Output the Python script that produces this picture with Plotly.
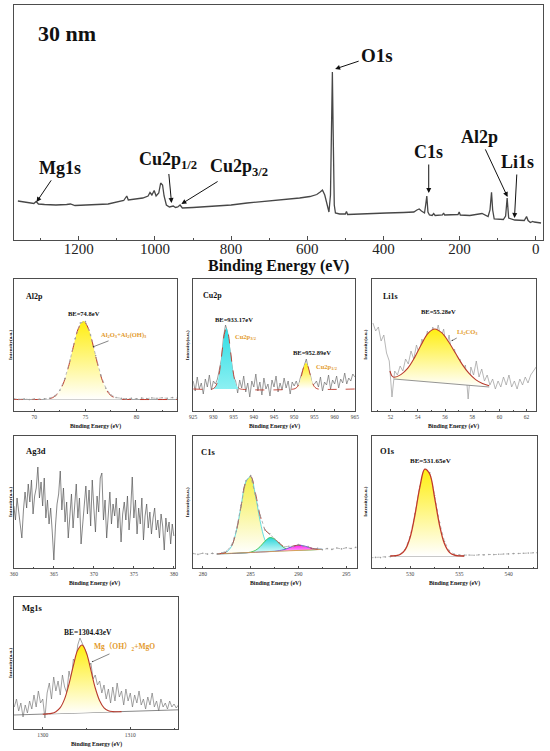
import plotly.graph_objects as go

W, H = 550, 751
SERIF = "Liberation Serif, Times New Roman, Noto Sans CJK SC, serif"
ORANGE = "#e39a2c"
RED = "#c0392b"
YELLOW = [[0, "#ffffff"], [1, "#ffee10"]]

# ---------------- survey spectrum (30 nm) ----------------
survey_be = [1360, 1340, 1318, 1312, 1306, 1290, 1260, 1232, 1222, 1210,
             1170, 1123, 1082, 1074, 1070, 1032, 1018, 1013, 1008, 1002,
             997, 990, 985, 980, 976, 970, 962, 952, 946, 940,
             934, 928, 900, 849, 800, 758, 712, 666, 620, 593,
             575, 566, 560, 554, 547, 543, 539, 536, 534, 532,
             529, 526, 515, 500, 497, 494, 470, 438, 392, 347,
             320, 312, 306, 300, 292, 289, 286, 283, 279, 272,
             268, 264, 245, 242, 239, 204, 201, 198, 173, 141,
             125, 120, 116, 113, 109, 85, 79, 75, 71, 55,
             30, 24, 20, 14, 8, 4, -14]
survey_int = [39, 37.5, 36.5, 38.5, 36, 35.5, 35, 35.5, 36, 34.5,
              35, 36, 39.5, 44, 40, 42, 44, 47.5, 45, 49.5,
              44, 47, 57, 55, 44, 35, 33, 34, 32.5, 33,
              35, 32, 32.5, 33.5, 35, 37, 38.5, 40, 42, 43.5,
              45.5, 48, 50, 45, 35, 28, 45, 120, 168, 110,
              35, 27, 26, 26, 28.5, 25.5, 26, 26.5, 27, 27.5,
              28, 30, 31, 29, 27, 35, 44, 28, 25, 24.5,
              26.5, 24.5, 25, 27, 25, 25.5, 28, 25, 24.5, 26.5,
              23.5, 30, 47.7, 30, 21, 20.5, 24, 42, 22, 20,
              19.5, 23.5, 19.5, 17.5, 18.5, 18, 17]

# ---------------- Al2p ----------------
al_raw = [12.3, 11.6, 12.1, 11.4, 12.0, 11.7, 12.2, 12.8, 14.9, 20.8,
          32.5, 51.0, 72.5, 88.0, 89.5, 76.0, 55.5, 36.0, 22.8, 16.0,
          13.4, 12.6, 12.1, 12.7, 12.2, 12.9, 12.4, 13.1, 12.6, 13.2,
          12.7, 13.4, 12.9]                       # 68.0 ... 84.0 eV, 0.5 eV step
al_raw_be = [68.0 + 0.5 * i for i in range(len(al_raw))]
al_fit_be = [68, 70.3, 70.8, 71.3, 71.8, 72.3, 72.8, 73.3, 73.8, 74.3, 74.8,
             75.3, 75.8, 76.3, 76.8, 77.3, 77.8, 78.3, 78.8, 79.3, 84]
al_fit = [11.5, 11.5, 11.6, 12.0, 13.4, 17.4, 26.6, 42.5, 63.5, 82.3, 90.0,
          82.3, 63.5, 42.5, 26.6, 17.4, 13.4, 12.0, 11.6, 11.5, 11.5]
al_base_be = [68, 84]
al_base = [11.5, 11.5]

# ---------------- Cu2p ----------------
cu_raw = [30, 20, 34, 22, 28, 17, 32, 24, 36, 21,
          30, 27, 32, 42, 52, 74, 86, 79, 64, 53,
          34, 30, 18, 31, 23, 35, 19, 28, 14, 30,
          24, 37, 20, 29, 16, 33, 22, 27, 15, 31,
          24, 35, 19, 28, 21, 33, 23, 30, 17, 29,
          25, 30, 24, 33, 40, 47, 52, 42, 36, 26,
          27, 30, 24, 34, 20, 29, 26, 36, 22, 31,
          27, 35, 23, 32, 28, 38, 27, 33, 30, 37,
          34]                                     # 925 ... 965 eV, 0.5 eV step
cu_raw_be = [925.0 + 0.5 * i for i in range(len(cu_raw))]
cu_fit_be = [925, 929.7, 930.2, 930.7, 931.2, 931.7, 932.2, 932.7, 933.2, 933.7,
             934.2, 934.7, 935.2, 935.7, 936.2, 936.7, 949.9, 950.4, 950.9, 951.4,
             951.9, 952.4, 952.9, 953.4, 953.9, 954.4, 954.9, 955.4, 955.9, 965]
cu_fit = [22, 22, 23.1, 25.8, 32.3, 44.4, 61.1, 76.6, 83.0, 76.6,
          61.1, 44.4, 32.3, 25.8, 23.1, 22, 22, 22.8, 24.8, 29.5,
          37.0, 44.6, 48.0, 44.6, 37.0, 29.5, 24.8, 22.8, 22, 22]
cu_p32_be = [929.7, 930.2, 930.7, 931.2, 931.7, 932.2, 932.7, 933.2, 933.7,
             934.2, 934.7, 935.2, 935.7, 936.2, 936.7]
cu_p32 = [22, 23.1, 25.8, 32.3, 44.4, 61.1, 76.6, 83.0, 76.6,
          61.1, 44.4, 32.3, 25.8, 23.1, 22]
cu_p12_be = [949.9, 950.4, 950.9, 951.4, 951.9, 952.4, 952.9, 953.4, 953.9,
             954.4, 954.9, 955.4, 955.9]
cu_p12 = [22, 22.8, 24.8, 29.5, 37.0, 44.6, 48.0, 44.6, 37.0, 29.5, 24.8, 22.8, 22]
cu_base = [22, 22]

# ---------------- Li1s ----------------
li_raw = [88, 80, 84, 70, 76, 58, 50,
          14, 40, 36, 45, 40,
          52, 47, 60, 52, 66,
          57, 72, 64, 80, 71,
          84, 75, 86, 73, 82,
          63, 76, 56, 62, 44,
          52, 40, 46, 12, 44,
          36, 50, 34, 42, 30,
          36, 26, 32, 22, 30,
          24, 34, 26, 36, 24,
          30, 22, 32, 26, 34,
          28, 36, 40, 44]                         # 50.7 ... 62.7 eV, 0.2 eV step
li_raw_be = [50.7 + 0.2 * i for i in range(len(li_raw))]
li_fit_be = [51.95, 52.1, 52.25, 52.75, 53.25, 53.75, 54.25, 54.75, 55.25,
             55.75, 56.25, 56.75, 57.25, 57.75, 58.25, 58.75, 59.25]
li_fit = [40, 35, 33.8, 36.4, 42.6, 53.1, 66.3, 77.7, 82.0,
          78.3, 69.5, 58.2, 46.9, 37.8, 31.4, 27.5, 25.2]
li_base_be = [52.25, 59.25]
li_base = [32, 24]

# ---------------- Ag3d ----------------
ag_raw = [62, 48, 70, 55, 40, 30, 58, 76, 60, 84,
          66, 88, 54, 72, 80, 101, 70, 86, 62, 90,
          50, 68, 44, 60, 36, 8, 42, 64, 74, 97,
          58, 80, 46, 66, 30, 52, 74, 40, 62, 84,
          50, 70, 24, 46, 66, 82, 54, 78, 42, 88,
          60, 36, 72, 56, 90, 95, 48, 68, 30, 58,
          76, 44, 64, 52, 70, 40, 60, 26, 54, 66,
          48, 72, 38, 58, 91, 50, 68, 34, 60, 44,
          70, 28, 52, 64, 40, 56, 34, 50, 60, 38,
          48, 30, 54, 42, 18, 50, 36, 46, 24, 44,
          32]                                     # 360 ... 380 eV, 0.2 eV step
ag_raw_be = [360.0 + 0.2 * i for i in range(len(ag_raw))]

# ---------------- C1s ----------------
c_raw = [14.5, 13.6, 14.8, 13.9, 14.6, 14.0, 15.2, 16.8, 22.5, 37.0,
         62.5, 87.0, 92.5, 74.0, 52.8, 38.0, 34.2, 29.0, 25.3, 21.0,
         21.8, 21.5, 23.4, 21.8, 21.4, 19.0, 19.6, 18.3, 19.4, 18.6,
         20.0, 19.1, 20.2, 19.5, 20.6]           # 279 ... 296 eV, 0.5 eV step
c_raw_be = [279.0 + 0.5 * i for i in range(len(c_raw))]
c_be = [281.5, 282, 282.5, 283, 283.5, 284, 284.5, 285, 285.5, 286, 286.5, 287,
        287.5, 288, 288.5, 289, 289.5, 290, 290.5, 291, 291.5, 292, 292.5]
c_base = [14.2, 14.3, 14.4, 14.5, 14.7, 15.0, 15.2, 15.5, 15.7, 16.0, 16.2, 16.5,
          16.7, 17.0, 17.2, 17.5, 17.6, 17.8, 18.0, 18.2, 18.3, 18.5, 18.6]
c_cc = [14.2, 14.6, 16.1, 21.7, 36.6, 61.7, 86.0, 91.3, 73.2, 46.8, 27.9, 19.6,
        17.3, 17.0, 17.2, 17.5, 17.6, 17.8, 18.0, 18.2, 18.3, 18.5, 18.6]
c_co = [14.2, 14.3, 14.4, 14.5, 14.7, 15.0, 15.2, 15.9, 17.6, 21.4, 26.8, 30.4,
        29.0, 24.4, 20.2, 18.3, 17.7, 17.8, 18.0, 18.2, 18.3, 18.5, 18.6]
c_oco = [14.2, 14.3, 14.4, 14.5, 14.7, 15.0, 15.2, 15.5, 15.7, 16.0, 16.2, 16.5,
         16.7, 17.4, 18.4, 20.2, 21.9, 22.8, 22.3, 20.9, 19.5, 18.9, 18.7]
c_env = [14.2, 14.6, 16.1, 21.7, 36.6, 61.7, 86.0, 91.7, 75.1, 52.2, 38.5, 33.5,
         29.6, 24.8, 21.4, 21.0, 22.0, 22.8, 22.3, 20.9, 19.5, 18.9, 18.7]

# ---------------- O1s ----------------
o_raw = [10.2, 10.6, 10.4, 11.0, 11.3, 12.0, 13.8, 18.5, 31.0, 54.0,
         81.5, 98.5, 95.5, 72.5, 45.5, 26.5, 17.0, 13.8, 13.0, 12.6,
         12.9, 12.8, 13.2, 13.1, 13.5, 13.4, 13.8, 14.0, 14.1, 14.4,
         14.5, 14.8, 14.9, 15.2, 15.3]           # 526 ... 543 eV, 0.5 eV step
o_raw_be = [526.0 + 0.5 * i for i in range(len(o_raw))]
o_fit = [12.0, 12.3, 13.5, 18.1, 30.2, 53.0, 80.9, 98.8, 94.0, 70.0,
         42.7, 24.2, 15.6, 12.8, 12.1, 12.0]     # 528 ... 535.5 eV
o_fit_be = [528.0 + 0.5 * i for i in range(len(o_fit))]
o_base_be = [528, 535.5]
o_base = [12, 12]

# ---------------- Mg1s ----------------
mg_raw = [22,
          30, 18, 26, 12, 24, 16, 28, 20, 34, 22, 38, 26,
          30, 11, 36, 46, 30, 52, 38, 48, 34, 54, 42, 36,
          58, 48, 70, 66, 84, 91, 86, 80, 76, 62, 66, 50,
          54, 44, 48, 36, 44, 30, 40, 26, 42, 28, 46, 32,
          38, 24, 40, 28, 36, 22, 34, 26, 38, 24, 30, 20,
          32, 24, 36, 22, 28, 18, 30, 22, 26, 20, 28, 22,
          25, 21, 24]                             # 1296.75 ... 1315.5 eV, 0.25 eV step
mg_raw_be = [1296.75 + 0.25 * i for i in range(len(mg_raw))]
mg_fit = [14.8, 15.1, 15.6, 17.3, 21.3, 30.1, 44.9, 63.4, 79.0, 84.0,
          75.7, 58.8, 41.0, 28.3, 21.2, 18.3, 17.4, 17.2, 17.4]  # 1300 ... 1309 eV
mg_fit_be = [1300.0 + 0.5 * i for i in range(len(mg_fit))]
mg_base_be = [1296.7, 1315.5]
mg_base = [14.0, 19.2]
mg_fill_base_be = [1300, 1309]
mg_fill_base = [14.9, 17.4]


def ref(n):
    return ("x" if n == 1 else f"x{n}"), ("y" if n == 1 else f"y{n}")


fig = go.Figure()


def add_line(n, x, y, color, width=0.8, dash="solid", shape="linear", mode="lines", **kw):
    xa, ya = ref(n)
    fig.add_trace(go.Scatter(x=x, y=y, xaxis=xa, yaxis=ya, mode=mode,
                             line=dict(color=color, width=width, dash=dash, shape=shape),
                             hoverinfo="skip", showlegend=False, **kw))


def add_fill(n, bx, by, x, y, scale, color="rgba(0,0,0,0)", width=0, dash="solid"):
    # invisible baseline first, then the peak filled down to it
    add_line(n, bx, by, "rgba(0,0,0,0)", width=0)
    xa, ya = ref(n)
    fig.add_trace(go.Scatter(x=x, y=y, xaxis=xa, yaxis=ya, mode="lines", fill="tonexty",
                             fillgradient=dict(type="vertical", colorscale=scale),
                             line=dict(color=color, width=width, dash=dash, shape="spline"),
                             hoverinfo="skip", showlegend=False))


# survey
add_line(1, survey_be, survey_int, "#474747", width=1.3)

# Al2p
add_line(2, al_base_be, al_base, "#8c8c8c", width=0.8)
add_fill(2, al_base_be, al_base, al_fit_be, al_fit, YELLOW, color=RED, width=1, dash="dash")
add_line(2, al_raw_be, al_raw, "#a8a8a8", width=0.8, dash="dot", mode="lines+markers",
         marker=dict(size=1.6, color="#9a9a9a"))

# Cu2p
add_line(3, cu_raw_be, cu_raw, "#6e6e6e", width=0.7)
add_fill(3, [929.7, 936.7], cu_base, cu_p32_be, cu_p32, [[0, "#8cf0f2"], [1, "#2fdde4"]])
add_fill(3, [949.9, 955.9], cu_base, cu_p12_be, cu_p12, YELLOW)
add_line(3, cu_fit_be, cu_fit, RED, width=0.9, dash="dash", shape="spline")

# Li1s
add_line(4, li_raw_be, li_raw, "#999999", width=0.7)
add_fill(4, li_base_be, li_base, li_fit_be[2:], li_fit[2:], YELLOW)
add_line(4, li_base_be, li_base, "#7a7a7a", width=0.8)
add_line(4, li_fit_be, li_fit, "#b83a2e", width=1.1, shape="spline")

# Ag3d
add_line(5, ag_raw_be, ag_raw, "#555555", width=0.7)

# C1s
add_fill(6, c_be, c_base, c_be, c_cc, [[0, "#ffffff"], [1, "#f5ef4a"]], color="#3fd3e0", width=0.8)
add_fill(6, c_be, c_base, c_be, c_co, [[0, "#e6ffff"], [1, "#27d4d8"]], color="#2fbf3a", width=0.8)
add_fill(6, c_be, c_base, c_be, c_oco, [[0, "#ffe6ff"], [1, "#ff1cf0"]], color="#4a4ad8", width=0.8)
add_line(6, c_be, c_base, "#e0a040", width=0.8)
add_line(6, c_be, c_env, RED, width=0.9, dash="dash", shape="spline")
add_line(6, c_raw_be, c_raw, "#a0a0a0", width=0.8, dash="dot", mode="lines+markers",
         marker=dict(size=1.6, color="#9a9a9a"))

# O1s
add_line(7, o_raw_be, o_raw, "#a8a8a8", width=0.8, dash="dot", mode="lines+markers",
         marker=dict(size=1.6, color="#9f9f9f"))
add_line(7, o_base_be, o_base, "#7a7a7a", width=0.8)
add_fill(7, o_base_be, o_base, o_fit_be, o_fit, YELLOW, color="#c0392b", width=1.3)

# Mg1s
add_line(8, mg_raw_be, mg_raw, "#7a7a7a", width=0.7)
add_line(8, mg_base_be, mg_base, "#6a6a6a", width=0.8)
add_fill(8, mg_fill_base_be, mg_fill_base, mg_fit_be, mg_fit, YELLOW, color="#b83a2e", width=1.1)


def px(v):
    return v / W


def py(v):
    return 1 - v / H


# panel frames: (n, left, right, top, bottom, x-range, dtick, minor dtick, y-range)
panels = [
    (1, 10.6, 546.5, 5, 240, [1369, -18], 200, 100, [0, 235]),
    (2, 10, 176, 279, 411, [68, 84], 5, 2.5, [0, 132]),
    (3, 192, 356, 279, 411, [925, 965], 5, None, [0, 132]),
    (4, 373, 540, 279, 411, [50.6, 62.7], 2, 1, [0, 132]),
    (5, 10, 174, 436, 568, [360, 380.2], 5, 2.5, [0, 132]),
    (6, 192, 358, 436, 568, [279, 296.1], 5, 2.5, [0, 132]),
    (7, 373, 541, 436, 568, [526.1, 542.9], 5, 2.5, [0, 132]),
    (8, 10, 177, 597, 729, [1296.7, 1315.5], 10, 5, [0, 132]),
]

layout = {}
for n, l, r, t, b, xr, dt, mdt, yr in panels:
    big = n == 1
    xa = dict(domain=[px(l), px(r)], range=xr, anchor=ref(n)[1],
              showline=True, mirror=True, linecolor="#4d4d4d", linewidth=1.3 if big else 0.9,
              showgrid=False, zeroline=False, ticks="inside", ticklen=4 if big else 2,
              tickcolor="#4d4d4d", tick0=0, dtick=dt, ticklabelstandoff=-5 if big else 0,
              tickfont=dict(family=SERIF, size=15 if big else 5.5, color="#222" if big else "#444"))
    if mdt:
        xa["minor"] = dict(ticks="inside", ticklen=2 if big else 1, dtick=mdt, tick0=0,
                           tickcolor="#4d4d4d")
    ya = dict(domain=[py(b), py(t)], range=yr, anchor=ref(n)[0],
              showline=True, mirror=True, linecolor="#4d4d4d", linewidth=1.3 if big else 0.9,
              showgrid=False, zeroline=False, showticklabels=False, ticks="")
    key = "" if n == 1 else str(n)
    layout["xaxis" + key] = xa
    layout["yaxis" + key] = ya

ann = []


def text(x, y, s, size, color="#111", anchor="center", angle=0, bold=True):
    ann.append(dict(x=px(x), y=py(y), xref="paper", yref="paper", text=s, showarrow=False,
                    xanchor=anchor, yanchor="middle", textangle=angle,
                    font=dict(family=SERIF, size=size, color=color,
                              weight="bold" if bold else "normal")))


def pointer(label, at, head, size, color="#111", awidth=1.0, asize=1.0, acolor="#111"):
    # label centred at `at`, arrow running from the label to `head`
    ann.append(dict(x=px(head[0]), y=py(head[1]), xref="paper", yref="paper", text=label,
                    showarrow=True, ax=at[0] - head[0], ay=at[1] - head[1],
                    arrowhead=2, arrowsize=asize, arrowwidth=awidth, arrowcolor=acolor,
                    standoff=0, startstandoff=1,
                    font=dict(family=SERIF, size=size, color=color, weight="bold")))


# survey labels
text(32, 33, "30 nm", 22, anchor="left")
pointer("O1s", (378, 55), (336, 69), 19)
pointer("Mg1s", (56, 168), (33, 202), 18)
pointer("Cu2p<sub>1/2</sub>", (166, 160), (170, 203), 18)
pointer("Cu2p<sub>3/2</sub>", (238, 168), (180, 204), 18)
pointer("C1s", (431, 152), (431, 193), 18)
pointer("Al2p", (483, 137), (511, 197), 18)
pointer("Li1s", (521, 162), (518, 218), 18)
text(278.5, 266, "Binding Energy (eV)", 16)

# small-panel labels
text(20, 296, "Al2p", 8, anchor="left")
text(200, 295, "Cu2p", 8, anchor="left")
text(383, 296, "Li1s", 8, anchor="left")
text(20, 451, "Ag3d", 8.5, anchor="left")
text(198, 452, "C1s", 8.5, anchor="left")
text(380, 451, "O1s", 8.5, anchor="left")
text(16, 608, "Mg1s", 8.5, anchor="left")

text(81, 313, "BE=74.8eV", 6.5)
text(233, 319, "BE=933.17eV", 6.5)
text(313, 353, "BE=952.89eV", 6.5)
text(441, 311, "BE=55.28eV", 6.5)
text(433, 461, "BE=531.65eV", 7)
text(85, 632, "BE=1304.43eV", 7.5)

pointer("Al<sub>2</sub>O<sub>3</sub>+Al<sub>2</sub>(OH)<sub>3</sub>", (121, 335), (90, 347), 6.5,
        color=ORANGE, awidth=0.6, asize=0.5, acolor="#333")
text(232, 337, "Cu2p<sub>3/2</sub>", 6.5, color=ORANGE, anchor="left")
text(315, 367, "Cu2p<sub>1/2</sub>", 6.5, color=ORANGE, anchor="left")
pointer("Li<sub>2</sub>CO<sub>3</sub>", (470, 332), (454, 341), 6.5,
        color=ORANGE, awidth=0.6, asize=0.5, acolor="#333")
pointer("Mg（OH）<sub>2</sub>+MgO", (122, 647), (89, 662), 7.5,
        color=ORANGE, awidth=0.6, asize=0.5, acolor="#333")

# axis titles of the small panels
for n, l, r, t, b, *_ in panels[1:]:
    text((l + r) / 2, b + 15, "Binding Energy (eV)", 5.8)
for xx in (6, 186, 366):
    for t, b in ((279, 411), (436, 568), (597, 729)):
        if xx != 6 and t == 597:
            continue
        text(xx, (t + b) / 2, "Intensity(a.u.)", 5, angle=-90)

fig.update_layout(width=W, height=H, margin=dict(l=0, r=0, t=0, b=0),
                  paper_bgcolor="white", plot_bgcolor="white", showlegend=False,
                  annotations=ann, **layout)

# the page's default body margin would shift the 550x751 figure out of the window
fig.write_html("out.html", config={"displayModeBar": False},
               post_script="document.body.style.margin='0px';")
